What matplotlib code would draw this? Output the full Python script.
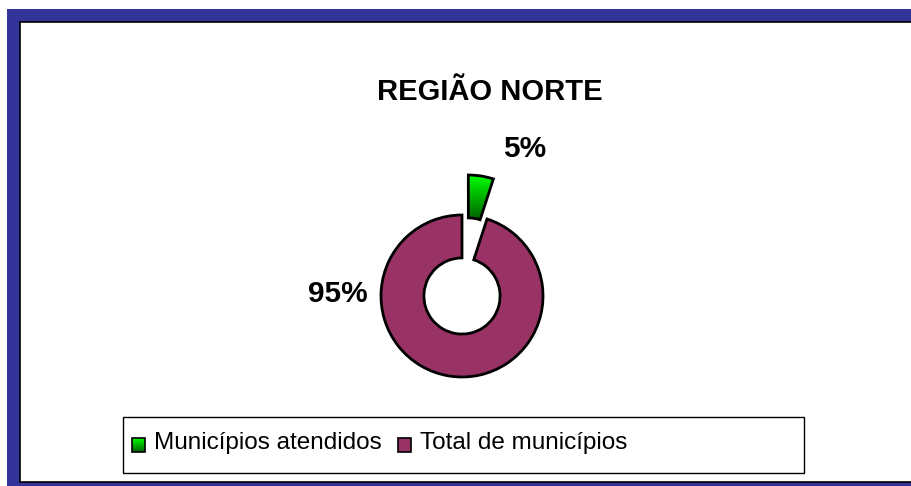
import numpy as np
import matplotlib
matplotlib.use('Agg')
import matplotlib.pyplot as plt
from matplotlib.patches import Rectangle
from matplotlib.colors import LinearSegmentedColormap

plt.rcParams['font.family'] = ['Liberation Sans', 'DejaVu Sans']

## data
title = 'REGIÃO NORTE'
categories = ['Municípios atendidos', 'Total de municípios']
shares = [5, 95]
share_labels = ['5%', '95%']

colors = ['#00b000', '#993366']
navy = '#333399'
green_cmap = LinearSegmentedColormap.from_list('green_grad', ['#006000', '#00ff00'])
grad = np.linspace(0, 1, 256).reshape(-1, 1)

W, H = 911, 486
fig = plt.figure(figsize=(W / 100, H / 100), dpi=100)

# background frame, drawn in pixel coordinates
bg = fig.add_axes([0, 0, 1, 1])
bg.add_patch(Rectangle((7, 9), W, H, facecolor=navy, edgecolor='none'))
bg.add_patch(Rectangle((20, 22), W, 460, facecolor='white', edgecolor='black', lw=1.2))

# doughnut
cx, cy, r = 462, 296, 81
size = 320
ax = fig.add_axes([(cx - size / 2) / W, (H - cy - size / 2) / H, size / W, size / H])
ax.patch.set_alpha(0)
wedges, _ = ax.pie(shares, colors=colors, startangle=90, counterclock=False,
                   explode=[0.5, 0], radius=1,
                   wedgeprops=dict(width=0.53, edgecolor='black', linewidth=2))

# gradient fill for the exploded green slice
g = wedges[0]
ext = g.get_path().get_extents()
im = ax.imshow(grad, cmap=green_cmap, origin='lower', aspect='auto', zorder=1,
               extent=[ext.x0, ext.x1, ext.y0, ext.y1])
im.set_clip_path(g)
g.set_facecolor('none')
g.set_zorder(2)
lim = size / 2 / r
ax.set_xlim(-lim, lim)
ax.set_ylim(-lim, lim)
ax.axis('off')

# texts
bg.text(490, 100, title, ha='center', va='baseline', fontsize=21, fontweight='bold')
label_pos = [(524.5, 157), (338, 302)]
for (x, y), lab in zip(label_pos, share_labels):
    bg.text(x, y, lab, ha='center', va='baseline', fontsize=21.5, fontweight='bold')

# legend
bg.add_patch(Rectangle((123, 417), 681, 56, facecolor='white', edgecolor='black', lw=1))
marker_x = [132, 398]
for i, (x, cat) in enumerate(zip(marker_x, categories)):
    if i == 0:
        bg.imshow(grad, cmap=green_cmap, origin='lower', aspect='auto', zorder=3,
                  extent=[x, x + 13, 452, 438])
    else:
        bg.add_patch(Rectangle((x, 438), 13, 14, facecolor=colors[i], edgecolor='none', zorder=3))
    bg.add_patch(Rectangle((x, 438), 13, 14, facecolor='none', edgecolor='black', lw=1.2, zorder=4))
    bg.text(x + 22, 449, cat, ha='left', va='baseline', fontsize=17.5)

bg.set_xlim(0, W)
bg.set_ylim(H, 0)
bg.axis('off')

fig.savefig('out.png', dpi=100)
